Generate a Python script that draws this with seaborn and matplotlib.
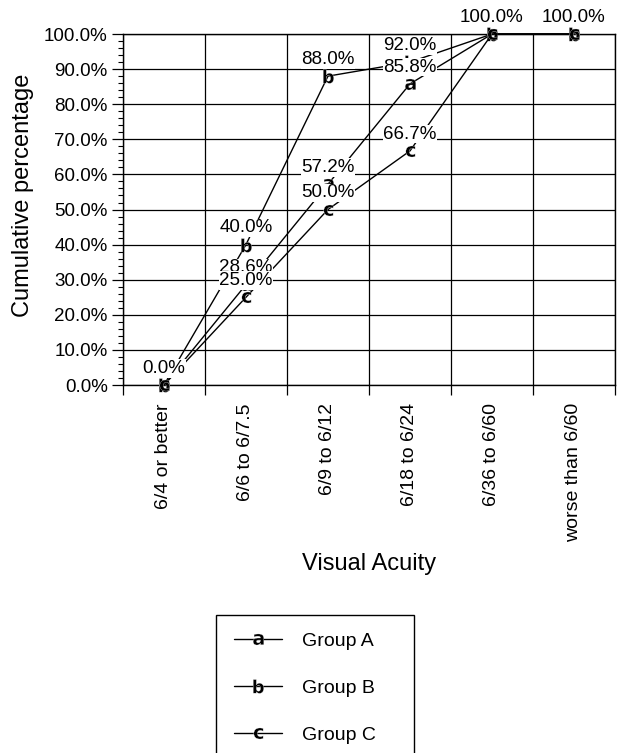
import numpy as np
import matplotlib
matplotlib.use('Agg')
import matplotlib.pyplot as plt
import seaborn as sns
from matplotlib.ticker import PercentFormatter, MultipleLocator, FixedLocator

# chart data
categories = ['6/4 or better', '6/6 to 6/7.5', '6/9 to 6/12',
              '6/18 to 6/24', '6/36 to 6/60', 'worse than 6/60']
group_a = [0.0, 28.6, 57.2, 85.8, 100.0, 100.0]
group_b = [0.0, 40.0, 88.0, 92.0, 100.0, 100.0]
group_c = [0.0, 25.0, 50.0, 66.7, 100.0, 100.0]
group_names = ['Group A', 'Group B', 'Group C']
marker_letters = ['a', 'b', 'c']

sns.set_style('white')
plt.rcParams['font.family'] = ['Liberation Sans', 'DejaVu Sans']
for key in ['text.color', 'axes.labelcolor', 'xtick.color', 'ytick.color']:
    plt.rcParams[key] = 'black'

fig = plt.figure(figsize=(6.22, 7.53), dpi=100)
ax = fig.add_axes([0.1977, 0.4887, 0.7910, 0.4661])

x = np.arange(len(categories))
handles = []
for name, vals, letter in zip(group_names, [group_a, group_b, group_c], marker_letters):
    # 'b' has an ascender, so mathtext shrinks it; give it a bit more size
    msize = 10 if letter == 'b' else 8
    sns.lineplot(x=x, y=vals, ax=ax, color='black', lw=1.0,
                 marker='$\\mathbf{' + letter + '}$', markersize=msize,
                 markeredgewidth=0.2, clip_on=False, legend=False, zorder=3)
    handles.append(ax.lines[-1])

# value labels, one per distinct point
done = set()
for vals in [group_a, group_b, group_c]:
    for xi, v in zip(x, vals):
        if (xi, v) in done:
            continue
        done.add((xi, v))
        ax.annotate(f'{v:.1f}%', (xi, v), xytext=(0, 12), textcoords='offset points',
                    ha='center', va='center', fontsize=13.5, zorder=5,
                    annotation_clip=False,
                    bbox=dict(facecolor='white', edgecolor='none', pad=0.5))

ax.set_xlim(-0.5, len(categories) - 0.5)
ax.set_ylim(0, 100)
ax.set_xticks(x, categories, rotation=90)
ax.xaxis.set_minor_locator(FixedLocator(np.arange(-0.5, len(categories), 1.0)))
ax.yaxis.set_major_locator(MultipleLocator(10))
ax.yaxis.set_minor_locator(MultipleLocator(2))
ax.yaxis.set_major_formatter(PercentFormatter(100, decimals=1))

ax.grid(False)
ax.yaxis.grid(True, which='major', color='black', lw=0.9)
ax.xaxis.grid(True, which='minor', color='black', lw=0.9)
ax.set_axisbelow(True)

ax.tick_params(axis='y', which='major', direction='out', length=8, width=0.9,
               color='black', labelsize=13.5, pad=3, left=True)
ax.tick_params(axis='y', which='minor', direction='out', length=3.6, width=0.8,
               color='black', left=True)
ax.tick_params(axis='x', which='major', length=0, labelsize=14, pad=13)
ax.tick_params(axis='x', which='minor', direction='out', length=7, width=0.9,
               color='black', bottom=True)
for sp in ax.spines.values():
    sp.set_color('black')
    sp.set_linewidth(1.0)

ax.set_ylabel('Cumulative percentage', fontsize=17)
ax.yaxis.set_label_coords(-0.18, 0.54)
ax.set_xlabel('Visual Acuity', fontsize=17)
ax.xaxis.set_label_coords(0.5, -0.479)

leg = fig.legend(handles, group_names, loc='upper left',
                 bbox_to_anchor=(216 / 622, 0, 198 / 622, 1 - 615 / 753),
                 mode='expand', fontsize=14, frameon=True, fancybox=False,
                 edgecolor='black', framealpha=1, borderaxespad=0,
                 handlelength=2.5, handletextpad=1.0, labelspacing=1.5,
                 borderpad=0.9)
leg.get_frame().set_linewidth(1.0)

fig.savefig('out.png', dpi=100)
